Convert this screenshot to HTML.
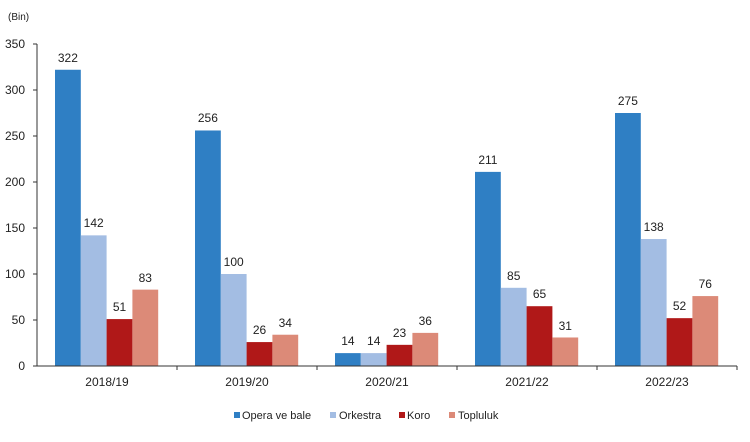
<!DOCTYPE html><html><head><style>body{margin:0;background:#fff}</style></head><body>
<svg width="750" height="437" xmlns="http://www.w3.org/2000/svg" font-family="Liberation Sans, Arial, sans-serif">
<rect width="750" height="437" fill="#fff"/>
<text x="8" y="20" font-size="10" fill="#222">(Bin)</text>
<g font-size="12" fill="#222" text-anchor="end">
<text x="25" y="370">0</text><text x="25" y="324">50</text><text x="25" y="278">100</text><text x="25" y="232">150</text><text x="25" y="186">200</text><text x="25" y="140">250</text><text x="25" y="94">300</text><text x="25" y="48">350</text>
</g>
<g>
<rect x="55" y="69.76" width="25.8" height="296.24" fill="#2f7fc4"/>
<rect x="80.8" y="235.36" width="25.8" height="130.64" fill="#a3bde3"/>
<rect x="106.6" y="319.08" width="25.8" height="46.92" fill="#b01818"/>
<rect x="132.4" y="289.64" width="25.8" height="76.36" fill="#dc8a78"/>
<rect x="195" y="130.48" width="25.8" height="235.52" fill="#2f7fc4"/>
<rect x="220.8" y="274" width="25.8" height="92" fill="#a3bde3"/>
<rect x="246.6" y="342.08" width="25.8" height="23.92" fill="#b01818"/>
<rect x="272.4" y="334.72" width="25.8" height="31.28" fill="#dc8a78"/>
<rect x="335" y="353.12" width="25.8" height="12.88" fill="#2f7fc4"/>
<rect x="360.8" y="353.12" width="25.8" height="12.88" fill="#a3bde3"/>
<rect x="386.6" y="344.84" width="25.8" height="21.16" fill="#b01818"/>
<rect x="412.4" y="332.88" width="25.8" height="33.12" fill="#dc8a78"/>
<rect x="475" y="171.88" width="25.8" height="194.12" fill="#2f7fc4"/>
<rect x="500.8" y="287.8" width="25.8" height="78.2" fill="#a3bde3"/>
<rect x="526.6" y="306.2" width="25.8" height="59.8" fill="#b01818"/>
<rect x="552.4" y="337.48" width="25.8" height="28.52" fill="#dc8a78"/>
<rect x="615" y="113" width="25.8" height="253" fill="#2f7fc4"/>
<rect x="640.8" y="239.04" width="25.8" height="126.96" fill="#a3bde3"/>
<rect x="666.6" y="318.16" width="25.8" height="47.84" fill="#b01818"/>
<rect x="692.4" y="296.08" width="25.8" height="69.92" fill="#dc8a78"/>
</g>
<g font-size="12" fill="#222" text-anchor="middle">
<text x="67.9" y="62">322</text><text x="93.7" y="227">142</text><text x="119.5" y="311">51</text><text x="145.3" y="282">83</text>
<text x="207.9" y="122">256</text><text x="233.7" y="266">100</text><text x="259.5" y="334">26</text><text x="285.3" y="327">34</text>
<text x="347.9" y="345">14</text><text x="373.7" y="345">14</text><text x="399.5" y="337">23</text><text x="425.3" y="325">36</text>
<text x="487.9" y="164">211</text><text x="513.7" y="280">85</text><text x="539.5" y="298">65</text><text x="565.3" y="330">31</text>
<text x="627.9" y="105">275</text><text x="653.7" y="231">138</text><text x="679.5" y="310">52</text><text x="705.3" y="288">76</text>
</g>
<g stroke="#333" stroke-width="1">
<line x1="37" y1="44" x2="37" y2="366"/>
<line x1="33" y1="366" x2="737" y2="366"/>
<line x1="33" y1="44" x2="37" y2="44"/><line x1="33" y1="90" x2="37" y2="90"/><line x1="33" y1="136" x2="37" y2="136"/><line x1="33" y1="182" x2="37" y2="182"/><line x1="33" y1="228" x2="37" y2="228"/><line x1="33" y1="274" x2="37" y2="274"/><line x1="33" y1="320" x2="37" y2="320"/>
<line x1="177" y1="366" x2="177" y2="370"/><line x1="317" y1="366" x2="317" y2="370"/><line x1="457" y1="366" x2="457" y2="370"/><line x1="597" y1="366" x2="597" y2="370"/><line x1="737" y1="366" x2="737" y2="370"/>
</g>
<g font-size="12" fill="#222" text-anchor="middle">
<text x="107" y="386">2018/19</text><text x="247" y="386">2019/20</text><text x="387" y="386">2020/21</text><text x="527" y="386">2021/22</text><text x="667" y="386">2022/23</text>
</g>
<g font-size="11" fill="#222">
<rect x="234" y="412" width="6" height="6" fill="#2f7fc4"/><text x="242" y="419">Opera ve bale</text>
<rect x="330" y="412" width="6" height="6" fill="#a3bde3"/><text x="339" y="419">Orkestra</text>
<rect x="399" y="412" width="6" height="6" fill="#b01818"/><text x="407" y="419">Koro</text>
<rect x="449" y="412" width="6" height="6" fill="#dc8a78"/><text x="458" y="419">Topluluk</text>
</g>
</svg></body></html>
